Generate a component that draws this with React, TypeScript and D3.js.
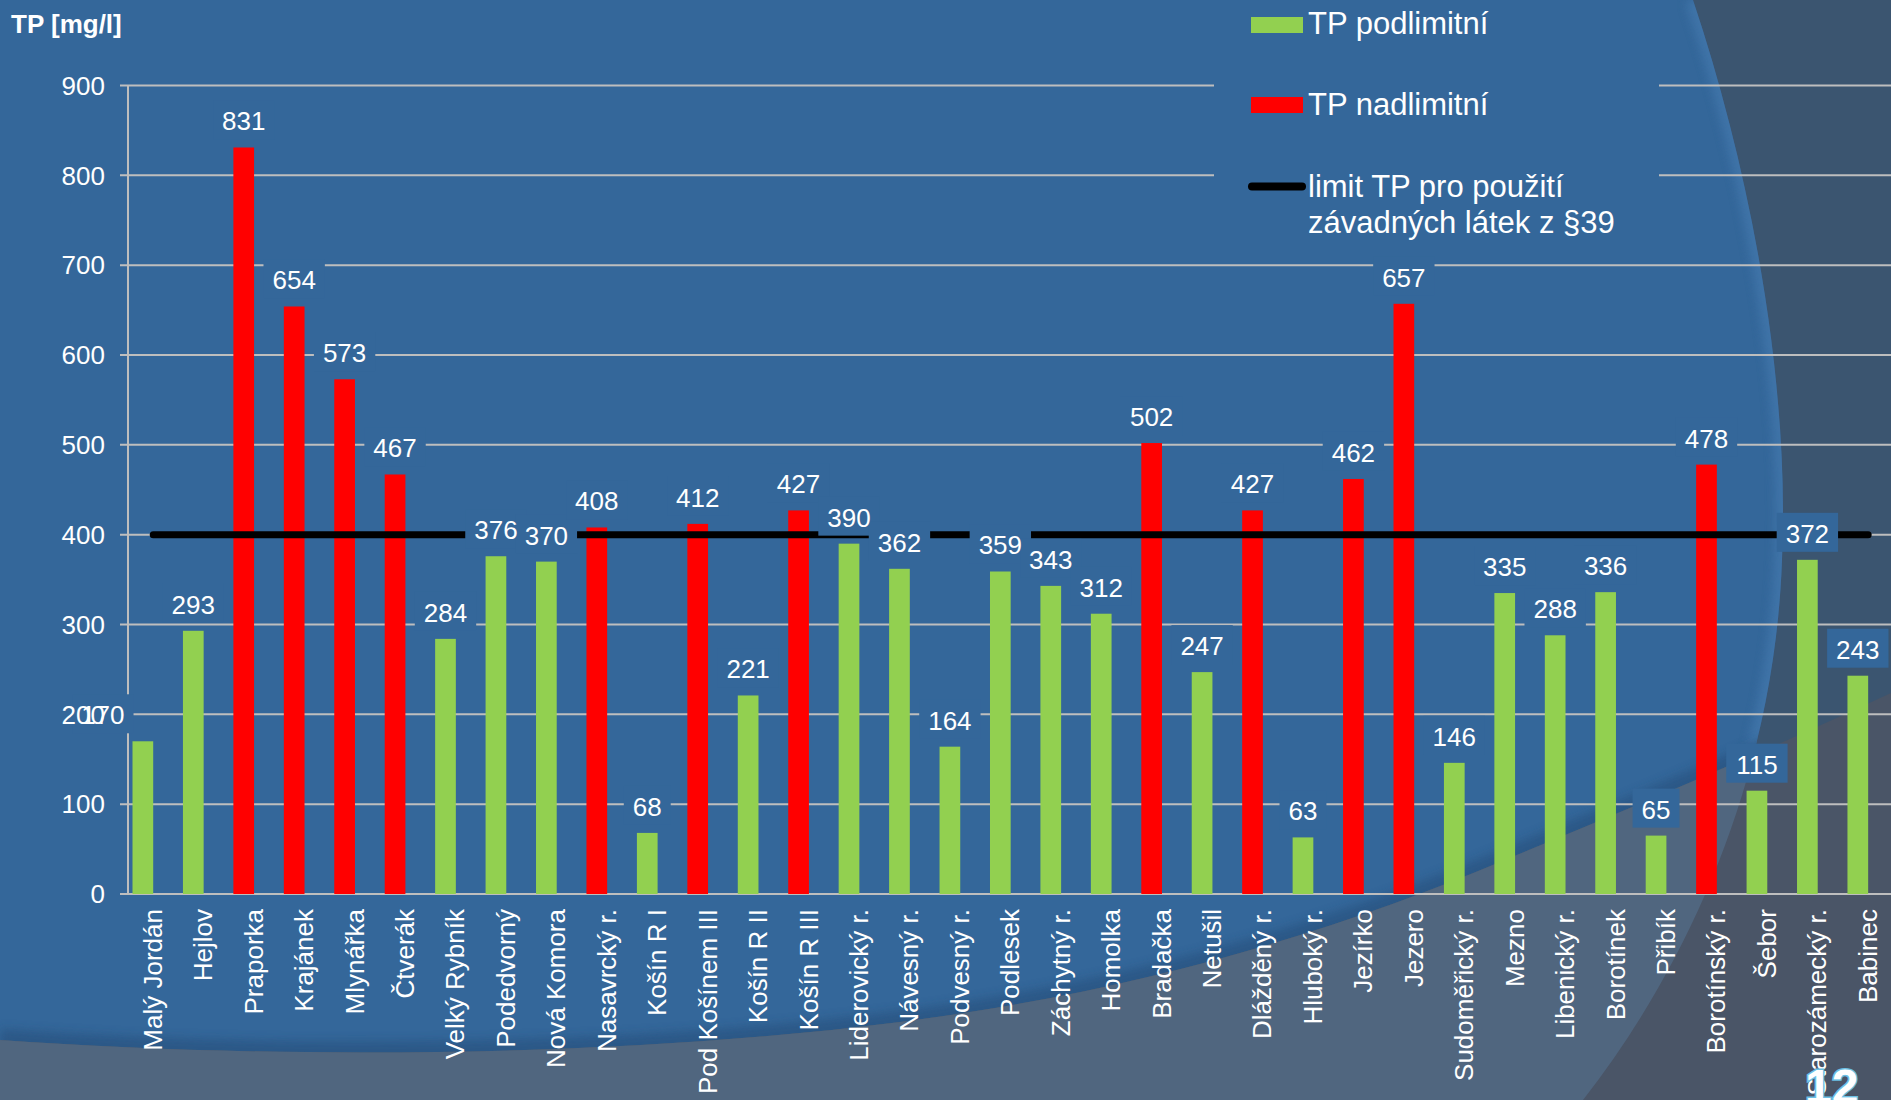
import React from "react";
import * as d3 from "d3";

// Reservoir names and total phosphorus values (TP, mg/l)
const categories = [
  "Malý Jordán", "Hejlov", "Praporka", "Krajánek", "Mlynářka", "Čtverák",
  "Velký Rybník", "Podedvorný", "Nová Komora", "Nasavrcký r.", "Košín R I",
  "Pod Košínem III", "Košín R II", "Košín R III", "Liderovický r.", "Návesný r.",
  "Podvesný r.", "Podlesek", "Záchytný r.", "Homolka", "Bradačka", "Netušil",
  "Dlážděný r.", "Hluboký r.", "Jezírko", "Jezero", "Sudoměřický r.", "Mezno",
  "Libenický r.", "Borotínek", "Přibík", "Borotínský r.", "Šebor",
  "Starozámecký r.", "Babinec",
];
const values = [
  170, 293, 831, 654, 573, 467, 284, 376, 370, 408, 68, 412, 221, 427, 390, 362,
  164, 359, 343, 312, 502, 247, 427, 63, 462, 657, 146, 335, 288, 336, 65, 478,
  115, 372, 243,
];
const limitValue = 400;
const yTicks = [0, 100, 200, 300, 400, 500, 600, 700, 800, 900];

const seriesNames = ["TP podlimitní", "TP nadlimitní"];
const limitName = ["limit TP pro použití", "závadných látek z §39"];

// Layout
const W = 1891;
const H = 1100;
const axisX = 128;
const step = 50.44;
const barOffset = 4.5;
const barW = 20.7;
const yTop = 85.5;
const yBottom = 894;
const FONT = "'Liberation Sans', Arial, Helvetica, sans-serif";

const COLORS = {
  blue: "#34679A",
  slateTop: "#3B5570",
  slateBottom: "#4A5567",
  band: "#50667F",
  grid: "#BEBEBE",
  green: "#92D050",
  red: "#FF0000",
};

// Manually moved data label (kept clear of the first bar)
const labelShift: Record<string, number> = { "Malý Jordán": -40 };

const x = d3
  .scaleBand<string>()
  .domain(categories)
  .range([axisX, axisX + step * categories.length])
  .paddingInner(0)
  .paddingOuter(0);
const y = d3.scaleLinear().domain([0, 900]).range([yBottom, yTop]);

const rows = categories.map((c, i) => ({
  name: c,
  value: values[i],
  series: values[i] > limitValue ? 1 : 0,
}));

// Background shapes of the slide
const circleEdge = "M1693,0 C1750,170 1790,380 1782,560 C1775,760 1700,950 1583,1100";
const circleRegion = `M0,0 L1693,0 C1750,170 1790,380 1782,560 C1775,760 1700,950 1583,1100 L0,1100 Z`;
const lowerEdge =
  "M0,1040 C250,1058 600,1060 900,1022 C1150,990 1350,925 1500,862 C1650,800 1780,745 1891,693";
const lowerRegion = `${lowerEdge} L1891,1100 L0,1100 Z`;
const upperRegion = `${lowerEdge} L1891,0 L0,0 Z`;

const digitW = 0.556 * 26;

export default function App() {
  const limitLine = d3
    .line<number>()
    .x((_, i) => (i === 0 ? x(categories[0])! : x(categories[categories.length - 1])!) + step / 2)
    .y(() => y(limitValue))([0, 1]);

  const labels = rows.map((r) => {
    const cx = x(r.name)! + barOffset + barW / 2 + (labelShift[r.name] ?? 0);
    const base = y(r.value) - 17;
    const tw = String(r.value).length * digitW;
    return { ...r, cx, base, tw };
  });

  return (
    <svg
      width={W}
      height={H}
      viewBox={`0 0 ${W} ${H}`}
      style={{ position: "absolute", left: 0, top: 0, display: "block" }}
      fontFamily={FONT}
    >
      <defs>
        <clipPath id="clipLower">
          <path d={lowerRegion} />
        </clipPath>
        <clipPath id="clipUpper">
          <path d={upperRegion} />
        </clipPath>
        <clipPath id="clipCircle">
          <path d={circleRegion} />
        </clipPath>
        <filter id="soft" x="-10%" y="-10%" width="120%" height="120%">
          <feGaussianBlur stdDeviation="5" />
        </filter>
      </defs>

      {/* slide background */}
      <rect x={0} y={0} width={W} height={H} fill={COLORS.slateTop} />
      <path d={circleRegion} fill={COLORS.blue} />
      <g clipPath="url(#clipCircle)">
        <g clipPath="url(#clipUpper)">
          <path d={circleEdge} fill="none" stroke="#4579AE" strokeWidth={16} opacity={0.7} filter="url(#soft)" />
          <path d={lowerEdge} fill="none" stroke="#254F7C" strokeWidth={22} opacity={0.6} filter="url(#soft)" />
        </g>
      </g>
      <g clipPath="url(#clipLower)">
        <rect x={0} y={0} width={W} height={H} fill={COLORS.slateBottom} />
        <path d={circleRegion} fill={COLORS.band} />
      </g>

      {/* grid lines with outward ticks */}
      {yTicks.map((t) => (
        <line key={`g${t}`} x1={axisX - 8} x2={W} y1={y(t)} y2={y(t)} stroke={COLORS.grid} strokeWidth={2} />
      ))}
      <line x1={axisX} x2={axisX} y1={y(900)} y2={y(0)} stroke={COLORS.grid} strokeWidth={2} />

      {/* bars */}
      {rows.map((r) => (
        <rect
          key={`b${r.name}`}
          x={x(r.name)! + barOffset}
          y={y(r.value)}
          width={barW}
          height={y(0) - y(r.value)}
          fill={r.series ? COLORS.red : COLORS.green}
        />
      ))}

      {/* limit line */}
      <path d={limitLine!} stroke="#000000" strokeWidth={7} strokeLinecap="round" fill="none" />

      {/* data label backgrounds */}
      {labels.map((l) => (
        <rect
          key={`lb${l.name}`}
          x={l.cx - l.tw / 2 - 9}
          y={l.base - 30}
          width={l.tw + 18}
          height={39}
          fill={COLORS.blue}
        />
      ))}

      {/* tick labels */}
      {yTicks.map((t) => (
        <text key={`t${t}`} x={105} y={y(t) + 9.3} textAnchor="end" fontSize={26} fill="#FFFFFF">
          {t}
        </text>
      ))}

      {/* data label texts */}
      {labels.map((l) => (
        <text key={`lt${l.name}`} x={l.cx} y={l.base} textAnchor="middle" fontSize={26} fill="#FFFFFF">
          {l.value}
        </text>
      ))}

      {/* category labels */}
      {categories.map((c) => (
        <text
          key={`c${c}`}
          transform={`translate(${x(c)! + step / 2},909) rotate(-90)`}
          textAnchor="end"
          dy="0.33em"
          fontSize={26}
          fill="#FFFFFF"
        >
          {c}
        </text>
      ))}

      {/* axis title */}
      <text x={11} y={33} fontSize={26} fontWeight="bold" fill="#FFFFFF">
        TP [mg/l]
      </text>

      {/* legend */}
      <rect x={1214} y={0} width={445} height={250} fill={COLORS.blue} />
      <rect x={1251} y={17} width={52} height={16} fill={COLORS.green} />
      <text x={1308} y={34} fontSize={31} fill="#FFFFFF">{seriesNames[0]}</text>
      <rect x={1251} y={97} width={52} height={16} fill={COLORS.red} />
      <text x={1308} y={115} fontSize={31} fill="#FFFFFF">{seriesNames[1]}</text>
      <line x1={1252} x2={1302} y1={186.5} y2={186.5} stroke="#000000" strokeWidth={8} strokeLinecap="round" />
      <text x={1308} y={197} fontSize={31} fill="#FFFFFF">{limitName[0]}</text>
      <text x={1308} y={233} fontSize={31} fill="#FFFFFF">{limitName[1]}</text>

      {/* slide number */}
      <text
        x={1805}
        y={1103}
        fontSize={48}
        fontWeight="bold"
        fill="#FFFFFF"
        stroke="#6CC0E5"
        strokeWidth={3}
        paintOrder="stroke"
      >
        12
      </text>
    </svg>
  );
}
